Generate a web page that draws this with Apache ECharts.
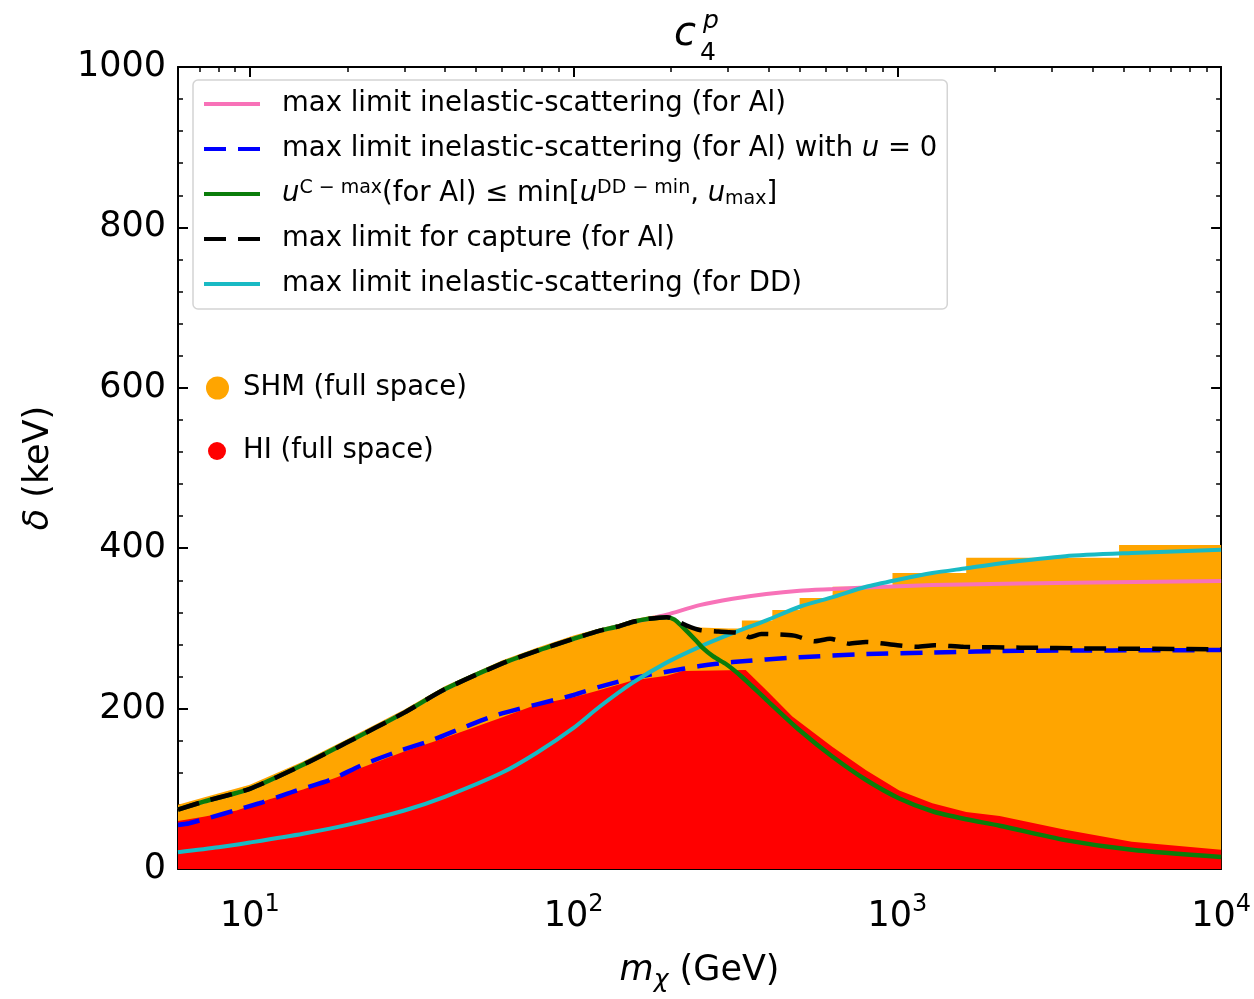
<!DOCTYPE html>
<html>
<head>
<meta charset="utf-8">
<script src="https://cdn.jsdelivr.net/npm/echarts@6/dist/echarts.min.js"></script>
<style>
  html, body { margin: 0; padding: 0; background: #ffffff; }
  #chart { width: 1254px; height: 999px; }
</style>
</head>
<body>
<div id="chart"></div>
<script>
// Dark-matter mass m_chi (GeV) and mass splitting delta (keV) for each curve.

// Filled region: SHM (full space), upper edge
const massSHM  = [6, 7.2, 10, 14.6, 20, 30, 40, 60, 77, 100, 120, 136, 152, 171, 194, 217, 245, 300, 331, 331, 411, 411, 499, 499, 631, 631, 966, 966, 1632, 1632, 4840, 4840, 10000];
const deltaSHM = [80, 89, 105, 134, 162, 199, 228, 260, 276, 291, 300, 305, 311, 315, 318, 304, 301, 300, 300, 310, 310, 323, 323, 338, 338, 352, 352, 369, 369, 388, 388, 404, 404];

// Filled region: HI (full space), upper edge
const massHI  = [6, 7.2, 9.1, 11.5, 14.6, 18.5, 22, 29.7, 37.7, 60, 77, 100, 120, 152, 194, 217, 340, 394, 474, 631, 801, 1014, 1283, 1632, 2070, 3300, 5300, 10000];
const deltaHI = [60, 65, 73, 87, 99, 114, 126, 146, 160, 189, 205, 214, 223, 235, 241, 247, 248, 223, 190, 152, 123, 98, 82, 71, 66, 49, 34, 24];

// max limit inelastic-scattering (for Al)
const massPink  = [6, 7.2, 10, 14.6, 20, 30, 40, 60, 77, 100, 120, 136, 152, 171, 194, 245, 310, 394, 499, 631, 801, 1283, 2381, 10000];
const deltaPink = [74, 84, 100, 130, 158, 195, 224, 256, 272, 287, 297, 302, 308, 312, 317, 329, 337, 343, 347, 349, 351, 354, 356, 359];

// max limit inelastic-scattering (for Al) with u = 0
const massU0  = [6, 6.5, 10.7, 14, 17.7, 22.3, 28.4, 36.7, 45.4, 57.8, 100, 120, 152, 194, 245, 310, 499, 801, 1283, 2381, 10000];
const deltaU0 = [55, 57, 82, 98, 111, 130, 146, 161, 176, 192, 217, 227, 238, 246, 253, 258, 264, 268, 270, 272, 273];

// u^{C-max}(for Al) <= min[u^{DD-min}, u_max]
const massGreen  = [6, 7.2, 10, 14.6, 20, 30, 40, 60, 77, 100, 120, 136, 152, 171, 194, 205, 217, 240, 250, 270, 297, 330, 394, 499, 631, 801, 1014, 1283, 1632, 2070, 3300, 5300, 10000];
const deltaGreen = [74, 84, 100, 130, 158, 195, 224, 256, 272, 287, 297, 302, 308, 312, 314, 311, 302, 284, 276, 265, 255, 240, 211, 173, 140, 111, 88, 72, 62, 54, 36, 24, 15];

// max limit for capture (for Al)
const massCapture  = [6, 7.2, 10, 14.6, 20, 30, 40, 60, 77, 100, 120, 136, 152, 171, 194, 222, 245, 280, 330, 350, 380, 480, 556, 620, 710, 800, 1000, 1150, 1300, 1600, 2400, 4000, 10000];
const deltaCapture = [74, 84, 100, 130, 158, 195, 224, 256, 272, 287, 297, 302, 308, 312, 314, 304, 298, 296, 294, 289, 293, 291, 284, 287, 281, 283, 279, 277, 279, 277, 276, 275, 274];

// max limit inelastic-scattering (for DD)
const massDD  = [6, 8, 10, 14.6, 20, 30, 40, 60, 77, 100, 120, 152, 193, 245, 310, 394, 499, 631, 801, 1014, 1283, 1632, 2070, 3300, 5300, 10000];
const deltaDD = [21, 27, 33, 44, 55, 73, 90, 120, 145, 176, 202, 232, 257, 277, 294, 310, 327, 339, 352, 361, 369, 375, 381, 390, 394, 398];

// Axis ticks
const xMajorTicks = [10, 100, 1000, 10000];
const xTickExponents = ['1', '2', '3', '4'];
const xMinorTicks = [6, 7, 8, 9, 20, 30, 40, 50, 60, 70, 80, 90, 200, 300, 400, 500, 600, 700, 800, 900,
                     2000, 3000, 4000, 5000, 6000, 7000, 8000, 9000];

// Series names and their legend text
const NAME_AL = 'max limit inelastic-scattering (for Al)';
const NAME_AL_U0 = 'max limit inelastic-scattering (for Al) with u=0';
const NAME_CMAX = 'u C-max (for Al) <= min[u DD-min, u max]';
const NAME_CAPTURE = 'max limit for capture (for Al)';
const NAME_DD = 'max limit inelastic-scattering (for DD)';
const NAME_SHM = 'SHM (full space)';
const NAME_HI = 'HI (full space)';

const legendText = {};
legendText[NAME_AL] = 'max limit inelastic-scattering (for Al)';
legendText[NAME_AL_U0] = 'max limit inelastic-scattering (for Al) with {i|u} = 0';
legendText[NAME_CMAX] = '{i|u}{sup|C \u2212 max}(for Al) \u2264 min[{i|u}{sup|DD \u2212 min}, {i|u}{sub|max}]';
legendText[NAME_CAPTURE] = 'max limit for capture (for Al)';
legendText[NAME_DD] = 'max limit inelastic-scattering (for DD)';

const FONT = 'DejaVu Sans';
const LEGEND_SIZE = 27.5;
const pairs = (xs, ys) => xs.map((x, i) => [x, ys[i]]);

const COLORS = {
  shm: '#ffa500',
  hi: '#ff0000',
  pink: '#f872b8',
  blue: '#0000ff',
  green: '#0a7d0a',
  black: '#000000',
  cyan: '#19bac4'
};

function areaSeries(name, xs, ys, color) {
  return {
    name: name,
    type: 'line',
    data: pairs(xs, ys),
    symbol: 'none',
    color: color,
    lineStyle: { width: 0, color: color },
    itemStyle: { color: color },
    areaStyle: { color: color, opacity: 1 },
    silent: true,
    animation: false
  };
}

function lineSeries(name, xs, ys, color, width, dashed) {
  return {
    name: name,
    type: 'line',
    data: pairs(xs, ys),
    symbol: 'none',
    smooth: 0.25,
    color: color,
    itemStyle: { color: color },
    lineStyle: { color: color, width: width, type: dashed ? [22, 12] : 'solid', cap: 'butt' },
    silent: true,
    animation: false
  };
}

const textBase = { fontFamily: FONT, color: '#000' };
const richLegend = {
  i: { fontFamily: FONT, fontSize: LEGEND_SIZE, fontStyle: 'italic', color: '#000', lineHeight: 30 },
  sup: { fontFamily: FONT, fontSize: 19, color: '#000', lineHeight: 15, verticalAlign: 'top' },
  sub: { fontFamily: FONT, fontSize: 19, color: '#000', lineHeight: 15, verticalAlign: 'bottom' }
};

function logAxis(position, ticks, tickLen, tickWidth, showLine) {
  return {
    type: 'log',
    logBase: 10,
    min: 6,
    max: 10000,
    position: position,
    gridIndex: 0,
    axisLine: { show: showLine, onZero: false, lineStyle: { color: '#000', width: 2 } },
    axisTick: { show: true, inside: true, length: tickLen, customValues: ticks,
                lineStyle: { color: '#000', width: tickWidth } },
    minorTick: { show: false },
    splitLine: { show: false },
    axisLabel: { show: false }
  };
}

const xBottom = logAxis('bottom', xMajorTicks, 10, 2, true);
xBottom.axisLabel = {
  show: true,
  customValues: xMajorTicks,
  margin: 24,
  formatter: function (v) {
    const k = xMajorTicks.findIndex(t => Math.abs(Math.log10(t) - Math.log10(v)) < 1e-6);
    return '{b|10}{s|' + xTickExponents[k] + '}';
  },
  rich: {
    b: { fontFamily: FONT, fontSize: 35, color: '#000', lineHeight: 48 },
    s: { fontFamily: FONT, fontSize: 24, color: '#000', lineHeight: 24, verticalAlign: 'top' }
  }
};
xBottom.name = '{i|m}{sub|\u03c7} (GeV)';
xBottom.nameLocation = 'middle';
xBottom.nameGap = 80;
xBottom.nameTextStyle = {
  fontFamily: FONT, fontSize: 35, color: '#000', lineHeight: 44,
  rich: {
    i: { fontFamily: FONT, fontSize: 35, fontStyle: 'italic', color: '#000', lineHeight: 44 },
    sub: { fontFamily: FONT, fontSize: 25, fontStyle: 'italic', color: '#000', lineHeight: 25, verticalAlign: 'bottom' }
  }
};

function valueAxis(position, showLabel) {
  const ax = {
    type: 'value',
    min: 0,
    max: 1000,
    interval: 200,
    position: position,
    gridIndex: 0,
    axisLine: { show: true, onZero: false, lineStyle: { color: '#000', width: 2 } },
    axisTick: { show: true, inside: true, length: 10, lineStyle: { color: '#000', width: 2 } },
    minorTick: { show: true, splitNumber: 5, length: 5, lineStyle: { color: '#000', width: 1.5 } },
    splitLine: { show: false },
    minorSplitLine: { show: false },
    axisLabel: { show: showLabel, fontFamily: FONT, fontSize: 35, color: '#000', margin: 12,
                 formatter: function (v) { return String(v); } }
  };
  if (showLabel) {
    ax.name = '{i|\u03b4} (keV)';
    ax.nameLocation = 'middle';
    ax.nameRotate = 90;
    ax.nameGap = 122;
    ax.nameTextStyle = {
      fontFamily: FONT, fontSize: 35, color: '#000',
      rich: { i: { fontFamily: FONT, fontSize: 35, fontStyle: 'italic', color: '#000' } }
    };
  }
  return ax;
}

const option = {
  animation: false,
  backgroundColor: '#ffffff',
  textStyle: textBase,
  grid: { left: 178, top: 67, width: 1044, height: 802, containLabel: false },
  title: [
    { text: 'c', left: 674, top: 15, padding: 0,
      textStyle: { fontFamily: FONT, fontSize: 40, fontStyle: 'italic', fontWeight: 'normal', color: '#000' } },
    { text: 'p', left: 703, top: 9, padding: 0,
      textStyle: { fontFamily: FONT, fontSize: 25, fontStyle: 'italic', fontWeight: 'normal', color: '#000' } },
    { text: '4', left: 700, top: 41, padding: 0,
      textStyle: { fontFamily: FONT, fontSize: 25, fontWeight: 'normal', color: '#000' } }
  ],
  legend: [
    {
      data: [NAME_AL, NAME_AL_U0, NAME_CMAX, NAME_CAPTURE, NAME_DD],
      orient: 'vertical',
      left: 193,
      top: 80,
      padding: [9, 10, 10, 9],
      itemGap: 15,
      itemWidth: 56,
      itemHeight: 14,
      selectedMode: false,
      backgroundColor: '#ffffff',
      borderColor: '#d4d4d4',
      borderWidth: 1.5,
      borderRadius: 5,
      itemStyle: { opacity: 0 },
      lineStyle: { width: 4 },
      formatter: function (name) { return legendText[name]; },
      textStyle: {
        fontFamily: FONT, fontSize: LEGEND_SIZE, color: '#000', lineHeight: 30,
        padding: [0, 0, 0, 17],
        rich: richLegend
      }
    },
    {
      data: [NAME_SHM],
      left: 206,
      top: 373,
      padding: 0,
      icon: 'circle',
      itemWidth: 23,
      itemHeight: 23,
      selectedMode: false,
      itemStyle: { borderWidth: 0 },
      textStyle: { fontFamily: FONT, fontSize: LEGEND_SIZE, color: '#000', lineHeight: 30, padding: [0, 0, 0, 9] }
    },
    {
      data: [NAME_HI],
      left: 208,
      top: 436,
      padding: 0,
      icon: 'circle',
      itemWidth: 18,
      itemHeight: 18,
      selectedMode: false,
      itemStyle: { borderWidth: 0 },
      textStyle: { fontFamily: FONT, fontSize: LEGEND_SIZE, color: '#000', lineHeight: 30, padding: [0, 0, 0, 12] }
    }
  ],
  xAxis: [
    xBottom,
    logAxis('bottom', xMinorTicks, 5, 1.5, false),
    logAxis('top', xMajorTicks, 10, 2, true),
    logAxis('top', xMinorTicks, 5, 1.5, false)
  ],
  yAxis: [
    valueAxis('left', true),
    valueAxis('right', false)
  ],
  series: [
    areaSeries(NAME_SHM, massSHM, deltaSHM, COLORS.shm),
    areaSeries(NAME_HI, massHI, deltaHI, COLORS.hi),
    lineSeries(NAME_AL, massPink, deltaPink, COLORS.pink, 4, false),
    lineSeries(NAME_AL_U0, massU0, deltaU0, COLORS.blue, 4.5, true),
    lineSeries(NAME_DD, massDD, deltaDD, COLORS.cyan, 4, false),
    lineSeries(NAME_CMAX, massGreen, deltaGreen, COLORS.green, 4.5, false),
    lineSeries(NAME_CAPTURE, massCapture, deltaCapture, COLORS.black, 4.5, true)
  ]
};

const chart = echarts.init(document.getElementById('chart'), null, { renderer: 'canvas' });
chart.setOption(option);
</script>
</body>
</html>
